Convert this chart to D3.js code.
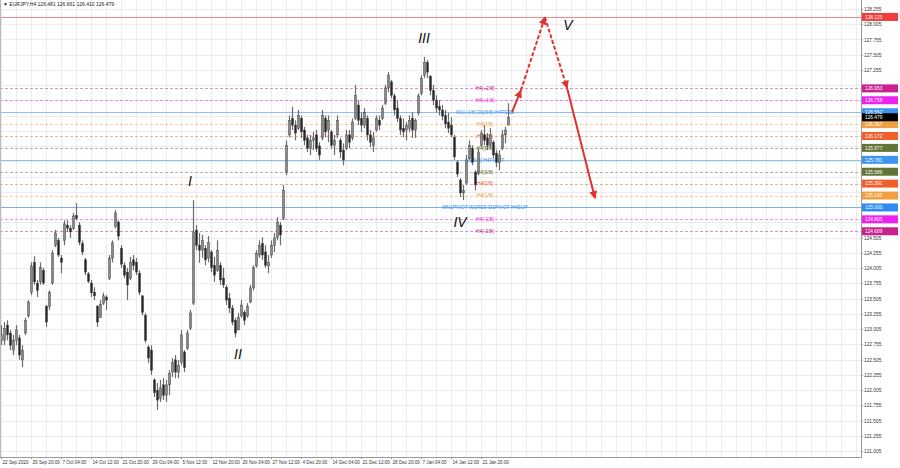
<!DOCTYPE html>
<html><head><meta charset="utf-8">
<script src="https://cdn.jsdelivr.net/npm/d3@7"></script>
<style>body{margin:0;background:#fff;} svg{display:block;font-family:"Liberation Sans",Arial,sans-serif;}</style>
</head><body><svg id="c" width="900" height="468"></svg>
<script>
// ---- data ----
const opens=[122.82,122.82,123.07,122.94,122.66,122.82,122.86,122.50,122.94,123.22,123.61,124.10,123.76,123.78,123.97,123.38,123.38,123.76,124.38,124.46,124.17,124.46,124.71,124.66,124.66,124.87,124.71,124.41,124.14,123.91,123.76,123.61,123.38,123.19,123.43,123.53,123.84,124.17,124.69,124.76,124.33,124.05,123.94,123.84,124.14,124.10,123.92,123.55,123.23,122.71,122.66,122.17,122.00,121.87,122.09,121.92,122.09,122.30,122.50,122.30,122.46,122.63,122.69,123.02,123.43,124.63,124.38,124.30,124.33,124.17,124.27,124.05,123.97,124.05,123.84,123.69,123.51,123.35,123.15,122.99,123.22,123.28,123.22,123.45,123.68,124.04,124.22,124.41,124.27,124.04,124.22,124.38,124.51,124.71,124.82,125.58,126.19,126.46,126.35,126.30,126.46,126.27,126.14,125.97,126.10,126.19,126.01,126.14,126.46,126.27,126.24,126.02,126.19,126.10,125.94,125.97,126.19,126.14,126.46,126.68,126.46,126.35,126.46,126.19,126.02,126.27,126.43,126.46,126.71,126.96,127.06,126.83,126.63,126.46,126.30,126.27,126.30,126.46,126.27,126.55,126.87,127.17,127.38,127.15,126.92,126.76,126.66,126.60,126.51,126.40,126.35,126.15,125.74,125.45,125.24,125.40,125.81,125.97,125.58,125.56,126.02,126.19,126.14,126.02,126.07,125.89,125.74,125.97,126.19,126.35];
const highs=[123.07,123.12,123.15,122.99,122.91,123.07,122.91,122.74,123.19,123.48,124.10,124.20,123.81,124.10,124.01,123.40,123.64,124.30,124.63,124.50,124.22,124.79,124.79,124.71,124.91,125.07,124.76,124.46,124.17,123.94,123.81,123.69,123.40,123.48,123.60,123.56,124.22,124.46,124.96,124.79,124.38,124.10,124.01,124.19,124.22,124.17,123.97,123.56,123.27,122.74,122.74,122.20,122.12,122.17,122.20,122.17,122.33,122.53,122.58,122.50,122.99,122.66,122.99,123.32,125.12,124.71,124.58,124.55,124.38,124.53,124.30,124.19,124.46,124.10,124.01,123.73,123.60,123.40,123.19,123.27,123.48,123.32,123.43,123.73,124.05,124.30,124.46,124.51,124.38,124.22,124.46,124.58,124.84,124.76,125.37,126.10,126.51,126.65,126.43,126.60,126.51,126.32,126.19,126.19,126.24,126.27,126.07,126.60,126.51,126.51,126.27,126.19,126.51,126.14,126.05,126.27,126.27,126.46,127.01,126.76,126.56,126.63,126.51,126.27,126.24,126.51,126.51,126.68,127.01,127.22,127.09,126.87,126.76,126.51,126.46,126.40,126.51,126.56,126.46,126.87,127.17,127.47,127.42,127.17,127.01,126.84,126.76,126.68,126.60,126.55,126.48,126.19,125.78,125.48,125.37,125.86,126.10,126.02,125.61,125.97,126.27,126.35,126.22,126.30,126.10,125.94,125.94,126.27,126.32,126.71];
const lows=[122.74,122.74,122.82,122.66,122.58,122.74,122.50,122.38,122.91,123.19,123.56,123.73,123.53,123.73,123.73,123.04,123.32,123.73,124.35,124.19,123.92,124.38,124.60,124.50,124.63,124.79,124.38,124.22,123.89,123.76,123.53,123.48,123.04,123.19,123.40,123.32,123.81,124.10,124.66,124.46,124.01,123.84,123.48,123.81,123.97,123.89,123.56,123.23,122.78,122.45,122.25,121.89,121.68,121.81,121.84,121.81,121.92,122.22,122.20,122.20,122.41,122.30,122.66,122.99,123.40,124.30,124.09,124.17,124.05,124.10,123.94,123.78,123.94,123.73,123.68,123.40,123.27,123.07,122.87,122.99,123.19,123.07,123.19,123.43,123.64,124.01,124.17,124.14,124.01,123.92,124.17,124.27,124.46,124.38,124.79,125.53,126.15,126.27,126.10,126.27,126.14,126.02,125.91,125.86,125.94,125.91,125.78,126.10,126.15,126.07,125.97,125.86,126.14,125.81,125.69,125.94,125.97,126.10,126.43,126.35,126.24,126.30,126.10,125.99,125.91,126.24,126.27,126.43,126.68,126.89,126.79,126.51,126.40,126.19,126.15,126.10,126.24,126.14,126.14,126.51,126.84,127.12,127.12,126.84,126.68,126.56,126.51,126.43,126.30,126.22,126.15,125.78,125.50,125.17,125.12,125.37,125.78,125.69,125.28,125.53,125.99,126.02,125.94,125.97,125.81,125.66,125.61,125.94,126.05,126.35];
const closes=[122.91,123.02,122.91,122.74,122.82,122.99,122.58,122.66,123.15,123.45,124.04,123.78,123.64,124.01,123.76,123.12,123.60,124.25,124.58,124.22,124.10,124.73,124.66,124.60,124.86,124.82,124.43,124.27,123.94,123.79,123.60,123.55,123.12,123.41,123.55,123.48,124.17,124.42,124.91,124.53,124.07,123.89,123.73,124.10,124.05,123.94,123.61,123.28,122.82,122.53,122.33,121.96,121.84,122.04,121.92,122.09,122.28,122.46,122.30,122.41,122.91,122.37,122.94,123.27,124.60,124.38,124.30,124.46,124.14,124.43,124.01,123.89,124.30,123.81,123.73,123.48,123.35,123.12,122.94,123.19,123.40,123.15,123.38,123.68,124.01,124.25,124.38,124.22,124.05,124.10,124.38,124.50,124.76,124.55,125.28,126.02,126.43,126.35,126.22,126.51,126.24,126.10,125.97,126.10,126.14,125.97,125.86,126.51,126.24,126.43,126.02,126.10,126.43,125.91,125.78,126.19,126.07,126.40,126.84,126.43,126.35,126.56,126.19,126.07,126.14,126.46,126.35,126.63,126.96,127.17,126.84,126.60,126.46,126.27,126.24,126.35,126.43,126.27,126.43,126.83,127.12,127.38,127.22,126.92,126.76,126.63,126.60,126.50,126.37,126.30,126.19,125.83,125.55,125.24,125.28,125.78,126.02,125.74,125.37,125.91,126.22,126.10,126.02,126.19,125.86,125.74,125.86,126.19,126.27,126.479];

const timeLabels=["22 Sep 2020","29 Sep 20:00","7 Oct 04:00","14 Oct 12:00","21 Oct 20:00","29 Oct 04:00","5 Nov 12:00","12 Nov 20:00","20 Nov 04:00","27 Nov 12:00","4 Dec 20:00","14 Dec 04:00","21 Dec 12:00","28 Dec 20:00","7 Jan 04:00","14 Jan 12:00","21 Jan 20:00"];
const timeTickBars=[0,10,20,30,40,50,60,70,80,90,100,110,120,130,140,150,160];
const priceTicks=[121.005,121.255,121.505,121.755,122.005,122.255,122.505,122.755,123.005,123.255,123.505,123.755,124.005,124.255,124.505,124.755,125.005,125.255,125.505,125.755,126.005,126.255,126.505,126.755,127.005,127.255,127.505,127.755,128.005,128.255];

const levelValues=[128.125,126.953,126.758,126.562,126.367,126.172,125.977,125.781,125.586,125.391,125.195,125.000,124.805,124.609];
const levelNames=["","H4[+2/8]","H4[+1/8]","W1[+1/8] D1[8/8] H4RES2","H4[7/8]","H4[6/8]","H4[5/8]","D1[6/8] H4PIVOT","H4[3/8]","H4[2/8]","H4[1/8]","MN1PIVOT W1RES D1PIVOT H4SUP","H4[-1/8]","H4[-2/8]"];
const levelColors=["#f03c3c","#c8228e","#ee22ee","#3c96f0","#f0a040","#f0602a","#627436","#3c96f0","#627436","#f0602a","#f0a040","#2e8cf0","#ee22ee","#c8228e"];
const levelDashed=[false,true,true,false,true,true,true,false,true,true,true,false,true,true];
const lastPrice=126.479;

const waveNames=["I","II","III","IV","V"];
const waveBars=[63,79,141,153,189];
const wavePrices=[125.43,122.59,127.78,124.76,127.99];

const forecastBars=[170.3,173.3,181.3,188.7,198];
const forecastPrices=[126.56,126.92,128.12,126.96,125.15];
const forecastDashed=[false,true,true,false];

// ---- drawing ----
const W=861, H=457;
const svg=d3.select("#c");
svg.append("rect").attr("width",900).attr("height",468).attr("fill","#fff");
const x=d3.scaleLinear().domain([0,169]).range([1,508]);
const y=d3.scaleLinear().domain([121.005,128.255]).range([451,9]);

svg.append("clipPath").attr("id","pc").append("rect").attr("width",W).attr("height",H);
const plot=svg.append("g").attr("clip-path","url(#pc)");

// grid
const vGrid=d3.range(0,Math.ceil(x.invert(W))+1,5);
plot.selectAll(".vg").data(vGrid).join("line").attr("x1",d=>x(d)+0.5).attr("x2",d=>x(d)+0.5)
  .attr("y1",0).attr("y2",H).attr("stroke","#ececec").attr("stroke-width",1);
plot.selectAll(".hg").data(priceTicks).join("line").attr("x1",0).attr("x2",W)
  .attr("y1",d=>Math.round(y(d))+0.5).attr("y2",d=>Math.round(y(d))+0.5).attr("stroke","#ececec");

// level lines
plot.selectAll(".lvl").data(levelValues).join("line")
  .attr("x1",0).attr("x2",W).attr("y1",d=>Math.round(y(d))+0.5).attr("y2",d=>Math.round(y(d))+0.5)
  .attr("stroke",(d,i)=>levelColors[i]).attr("stroke-opacity",(d,i)=>levelDashed[i]?0.5:0.6)
  .attr("stroke-dasharray",(d,i)=>levelDashed[i]?"3,2":null);

// level text
const labelBar=161.3;
plot.selectAll(".lt").data(levelValues).join("text")
  .attr("x",x(labelBar)).attr("y",d=>y(d)+1.8).attr("text-anchor","middle")
  .attr("font-size",5).attr("fill",(d,i)=>levelColors[i]).text((d,i)=>levelNames[i]);

// candles
const idx=d3.range(opens.length);
plot.selectAll(".wick").data(idx).join("line")
  .attr("x1",i=>x(i)+0.5).attr("x2",i=>x(i)+0.5).attr("y1",i=>y(highs[i])).attr("y2",i=>y(lows[i]))
  .attr("stroke","#6c6c6c").attr("stroke-width",1.2);
plot.selectAll(".body").data(idx).join("rect")
  .attr("x",i=>x(i)-0.5).attr("width",2)
  .attr("y",i=>y(Math.max(opens[i],closes[i])))
  .attr("height",i=>Math.max(1,Math.abs(y(opens[i])-y(closes[i]))))
  .attr("fill",i=>closes[i]>=opens[i]?"#8a8a8a":"#262626")
  .attr("stroke","#333").attr("stroke-width",0.4);

// wave labels
plot.selectAll(".wave").data(waveNames).join("text")
  .attr("x",(d,i)=>x(waveBars[i])).attr("y",(d,i)=>y(wavePrices[i])+5).attr("text-anchor","middle")
  .attr("font-size",14).attr("font-style","italic").attr("fill","#111").text(d=>d);

// forecast arrows
const defs=svg.append("defs");
defs.append("marker").attr("id","ah").attr("viewBox","0 0 10 10").attr("refX",9).attr("refY",5)
  .attr("markerWidth",4).attr("markerHeight",4).attr("orient","auto")
  .append("path").attr("d","M0,0L10,5L0,10z").attr("fill","#e0322e");
plot.selectAll(".fc").data(forecastDashed).join("line")
  .attr("x1",(d,i)=>x(forecastBars[i])).attr("y1",(d,i)=>y(forecastPrices[i]))
  .attr("x2",(d,i)=>x(forecastBars[i+1])).attr("y2",(d,i)=>y(forecastPrices[i+1]))
  .attr("stroke","#e0322e").attr("stroke-width",2).attr("stroke-dasharray",d=>d?"4,2":null)
  .attr("marker-end","url(#ah)");

// frame
svg.append("line").attr("x1",W+0.5).attr("x2",W+0.5).attr("y1",0).attr("y2",H+0.5).attr("stroke","#999");
svg.append("line").attr("x1",0).attr("x2",W+0.5).attr("y1",H+0.5).attr("y2",H+0.5).attr("stroke","#999");
svg.append("line").attr("x1",0.5).attr("x2",0.5).attr("y1",0).attr("y2",H).attr("stroke","#bbb");

// level boxes data
const allBoxVals=levelValues.concat([lastPrice]);
const allBoxCols=levelColors.concat(["#000"]);

// price axis (ticks hidden under a level box are left out, as on the reference)
const visibleTicks=priceTicks.filter(t=>allBoxVals.every(v=>Math.abs(y(v)-y(t))>=5.5));
const yAxis=d3.axisRight(y).tickValues(visibleTicks).tickFormat(d3.format(".3f")).tickSize(2).tickPadding(1);
const ga=svg.append("g").attr("transform",`translate(${W},0)`).call(yAxis);
ga.select(".domain").remove();
ga.selectAll("text").attr("font-size",4.8).attr("fill","#333").attr("font-family","Liberation Sans, Arial, sans-serif");
ga.selectAll("line").attr("stroke","#999");

// time axis
const xAxis=d3.axisBottom(x).tickValues(timeTickBars).tickFormat((d,i)=>timeLabels[i]).tickSize(2).tickPadding(2);
const gx=svg.append("g").attr("transform",`translate(0,${H})`).call(xAxis);
gx.select(".domain").remove();
gx.selectAll("text").attr("font-size",4.6).attr("fill","#333").attr("text-anchor","start").attr("dx",1).attr("font-family","Liberation Sans, Arial, sans-serif");
gx.selectAll("line").attr("stroke","#999");

// level boxes on the price axis
const boxes=svg.append("g");
boxes.selectAll("rect").data(allBoxVals).join("rect")
  .attr("x",W+1).attr("y",d=>y(d)-4).attr("width",36).attr("height",8).attr("fill",(d,i)=>allBoxCols[i]);
boxes.selectAll("text").data(allBoxVals).join("text")
  .attr("x",W+4).attr("y",d=>y(d)+1.8).attr("font-size",4.8).attr("fill","#fff").text(d=>d3.format(".3f")(d));

// header
svg.append("text").attr("x",3).attr("y",6).attr("font-size",5).attr("fill","#222")
  .text("\u25BC EURJPY,H4  "+[126.481,126.661,126.410,126.479].map(d3.format(".3f")).join(" "));
</script></body></html>
